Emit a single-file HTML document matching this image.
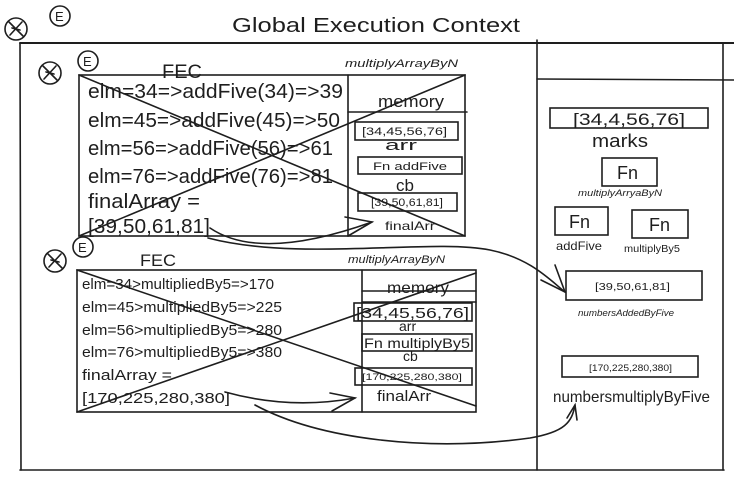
<!DOCTYPE html>
<html><head><meta charset="utf-8"><style>
html,body{margin:0;padding:0;background:#fff;width:734px;height:481px;overflow:hidden}
svg{display:block}
text{font-family:"Liberation Sans",sans-serif;fill:#1e1e1e}
</style></head><body>
<svg width="734" height="481" viewBox="0 0 734 481" xmlns="http://www.w3.org/2000/svg" fill="none" stroke="#1e1e1e" stroke-width="1.6" stroke-linecap="round">
<line x1="20" y1="43" x2="734" y2="43" stroke-width="2"/>
<line x1="20" y1="43" x2="21" y2="470"/>
<line x1="20" y1="470" x2="724" y2="470"/>
<line x1="537" y1="40" x2="537" y2="470"/>
<line x1="723" y1="43" x2="723" y2="470"/>
<line x1="537" y1="79" x2="734" y2="80"/>
<text x="232" y="32" font-size="20" stroke="none" textLength="288" lengthAdjust="spacingAndGlyphs">Global Execution Context</text>

<circle cx="16" cy="29" r="11"/><path d="M9 22 L23 36 M22 22 L10 35 M12 28 L20 30"/>
<circle cx="60" cy="16" r="10"/><text x="55" y="21" font-size="13" stroke="none">E</text>
<circle cx="50" cy="73" r="11"/><path d="M43 66 L57 80 M56 66 L44 79 M46 72 L54 74"/>
<circle cx="88" cy="61" r="10"/><text x="83" y="66" font-size="13" stroke="none">E</text>
<circle cx="55" cy="261" r="11"/><path d="M48 254 L62 268 M61 254 L49 267 M51 260 L59 262"/>
<circle cx="83" cy="247" r="10"/><text x="78" y="252" font-size="13" stroke="none">E</text>

<text x="162" y="78" font-size="19" stroke="none" textLength="40" lengthAdjust="spacingAndGlyphs">FEC</text>
<text x="345" y="67" font-size="11" font-style="italic" stroke="none" textLength="113" lengthAdjust="spacingAndGlyphs">multiplyArrayByN</text>
<rect x="79" y="75" width="386" height="161"/>
<line x1="348" y1="75" x2="348" y2="236"/>
<line x1="348" y1="112" x2="467" y2="112"/>
<text x="378" y="107" font-size="17" stroke="none" textLength="66" lengthAdjust="spacingAndGlyphs">memory</text>
<g stroke="none" font-size="20">
<text x="88" y="98" textLength="255" lengthAdjust="spacingAndGlyphs">elm=34=&gt;addFive(34)=&gt;39</text>
<text x="88" y="127" textLength="252" lengthAdjust="spacingAndGlyphs">elm=45=&gt;addFive(45)=&gt;50</text>
<text x="88" y="155" textLength="245" lengthAdjust="spacingAndGlyphs">elm=56=&gt;addFive(56)=&gt;61</text>
<text x="88" y="183" textLength="245" lengthAdjust="spacingAndGlyphs">elm=76=&gt;addFive(76)=&gt;81</text>
<text x="88" y="208" textLength="112" lengthAdjust="spacingAndGlyphs">finalArray =</text>
<text x="88" y="233" textLength="122" lengthAdjust="spacingAndGlyphs">[39,50,61,81]</text>
</g>
<rect x="355" y="122" width="103" height="18"/>
<text x="362" y="135" font-size="11" stroke="none" textLength="85" lengthAdjust="spacingAndGlyphs">[34,45,56,76]</text>
<text x="385" y="150" font-size="15" stroke="none" textLength="32" lengthAdjust="spacingAndGlyphs">arr</text>
<rect x="358" y="157" width="104" height="17"/>
<text x="373" y="170" font-size="11" stroke="none" textLength="74" lengthAdjust="spacingAndGlyphs">Fn addFive</text>
<text x="396" y="191" font-size="17" stroke="none">cb</text>
<rect x="358" y="193" width="99" height="18"/>
<text x="371" y="206" font-size="11" stroke="none" textLength="72" lengthAdjust="spacingAndGlyphs">[39,50,61,81]</text>
<text x="385" y="230" font-size="12" stroke="none" textLength="50" lengthAdjust="spacingAndGlyphs">finalArr</text>
<line x1="79" y1="75" x2="465" y2="236"/><line x1="79" y1="236" x2="465" y2="75"/>

<text x="140" y="266" font-size="17" stroke="none" textLength="36" lengthAdjust="spacingAndGlyphs">FEC</text>
<text x="348" y="263" font-size="11" font-style="italic" stroke="none" textLength="97" lengthAdjust="spacingAndGlyphs">multiplyArrayByN</text>
<rect x="77" y="270" width="399" height="142"/>
<line x1="362" y1="270" x2="362" y2="412"/>
<line x1="362" y1="291" x2="476" y2="291"/><line x1="362" y1="302" x2="476" y2="302"/>
<text x="387" y="293" font-size="16" stroke="none" textLength="62" lengthAdjust="spacingAndGlyphs">memory</text>
<g stroke="none" font-size="15">
<text x="82" y="289" textLength="192" lengthAdjust="spacingAndGlyphs">elm=34&gt;multipliedBy5=&gt;170</text>
<text x="82" y="312" textLength="200" lengthAdjust="spacingAndGlyphs">elm=45&gt;multipliedBy5=&gt;225</text>
<text x="82" y="335" textLength="200" lengthAdjust="spacingAndGlyphs">elm=56&gt;multipliedBy5=&gt;280</text>
<text x="82" y="357" textLength="200" lengthAdjust="spacingAndGlyphs">elm=76&gt;multipliedBy5=&gt;380</text>
<text x="82" y="380" textLength="90" lengthAdjust="spacingAndGlyphs">finalArray =</text>
<text x="82" y="403" textLength="148" lengthAdjust="spacingAndGlyphs">[170,225,280,380]</text>
</g>
<rect x="354" y="303" width="118" height="18"/>
<text x="356" y="318" font-size="15" stroke="none" textLength="113" lengthAdjust="spacingAndGlyphs">[34,45,56,76]</text>
<text x="399" y="331" font-size="14" stroke="none">arr</text>
<rect x="362" y="334" width="110" height="17"/>
<text x="364" y="348" font-size="14" stroke="none" textLength="106" lengthAdjust="spacingAndGlyphs">Fn multiplyBy5</text>
<text x="403" y="361" font-size="14" stroke="none">cb</text>
<rect x="355" y="368" width="117" height="17"/>
<text x="362" y="380" font-size="9" stroke="none" textLength="100" lengthAdjust="spacingAndGlyphs">[170,225,280,380]</text>
<text x="377" y="401" font-size="15" stroke="none" textLength="54" lengthAdjust="spacingAndGlyphs">finalArr</text>
<line x1="77" y1="270" x2="476" y2="406"/><line x1="77" y1="412" x2="476" y2="273"/>

<rect x="550" y="108" width="158" height="20"/>
<text x="573" y="125" font-size="17" stroke="none" textLength="112" lengthAdjust="spacingAndGlyphs">[34,4,56,76]</text>
<text x="592" y="147" font-size="18" stroke="none" textLength="56" lengthAdjust="spacingAndGlyphs">marks</text>
<rect x="602" y="158" width="55" height="28"/>
<text x="617" y="179" font-size="18" stroke="none">Fn</text>
<text x="578" y="196" font-size="9" font-style="italic" stroke="none" textLength="84" lengthAdjust="spacingAndGlyphs">multiplyArryaByN</text>
<rect x="555" y="207" width="53" height="28"/>
<text x="569" y="228" font-size="18" stroke="none">Fn</text>
<rect x="632" y="210" width="56" height="28"/>
<text x="649" y="231" font-size="18" stroke="none">Fn</text>
<text x="556" y="250" font-size="12" stroke="none" textLength="46" lengthAdjust="spacingAndGlyphs">addFive</text>
<text x="624" y="252" font-size="10" stroke="none" textLength="56" lengthAdjust="spacingAndGlyphs">multiplyBy5</text>
<rect x="566" y="271" width="136" height="29"/>
<text x="595" y="290" font-size="10" stroke="none" textLength="75" lengthAdjust="spacingAndGlyphs">[39,50,61,81]</text>
<text x="578" y="316" font-size="9" font-style="italic" stroke="none" textLength="96" lengthAdjust="spacingAndGlyphs">numbersAddedByFive</text>
<rect x="562" y="356" width="136" height="21"/>
<text x="589" y="371" font-size="9" stroke="none" textLength="83" lengthAdjust="spacingAndGlyphs">[170,225,280,380]</text>
<text x="553" y="402" font-size="16" stroke="none" textLength="157" lengthAdjust="spacingAndGlyphs">numbersmultiplyByFive</text>

<path d="M210 228 Q260 262 372 222"/><path d="M345 217 L372 222 L348 236"/>
<path d="M208 238 C300 262 430 238 490 250 C530 258 550 280 565 292"/><path d="M555 265 L565 292 L541 280"/>
<path d="M225 392 Q290 410 355 398"/><path d="M330 393 L355 398 L332 411"/>
<path d="M255 405 C320 440 430 452 530 438 C565 432 572 422 575 405"/><path d="M567 418 L575 405 L577 420"/>
</svg>
</body></html>
